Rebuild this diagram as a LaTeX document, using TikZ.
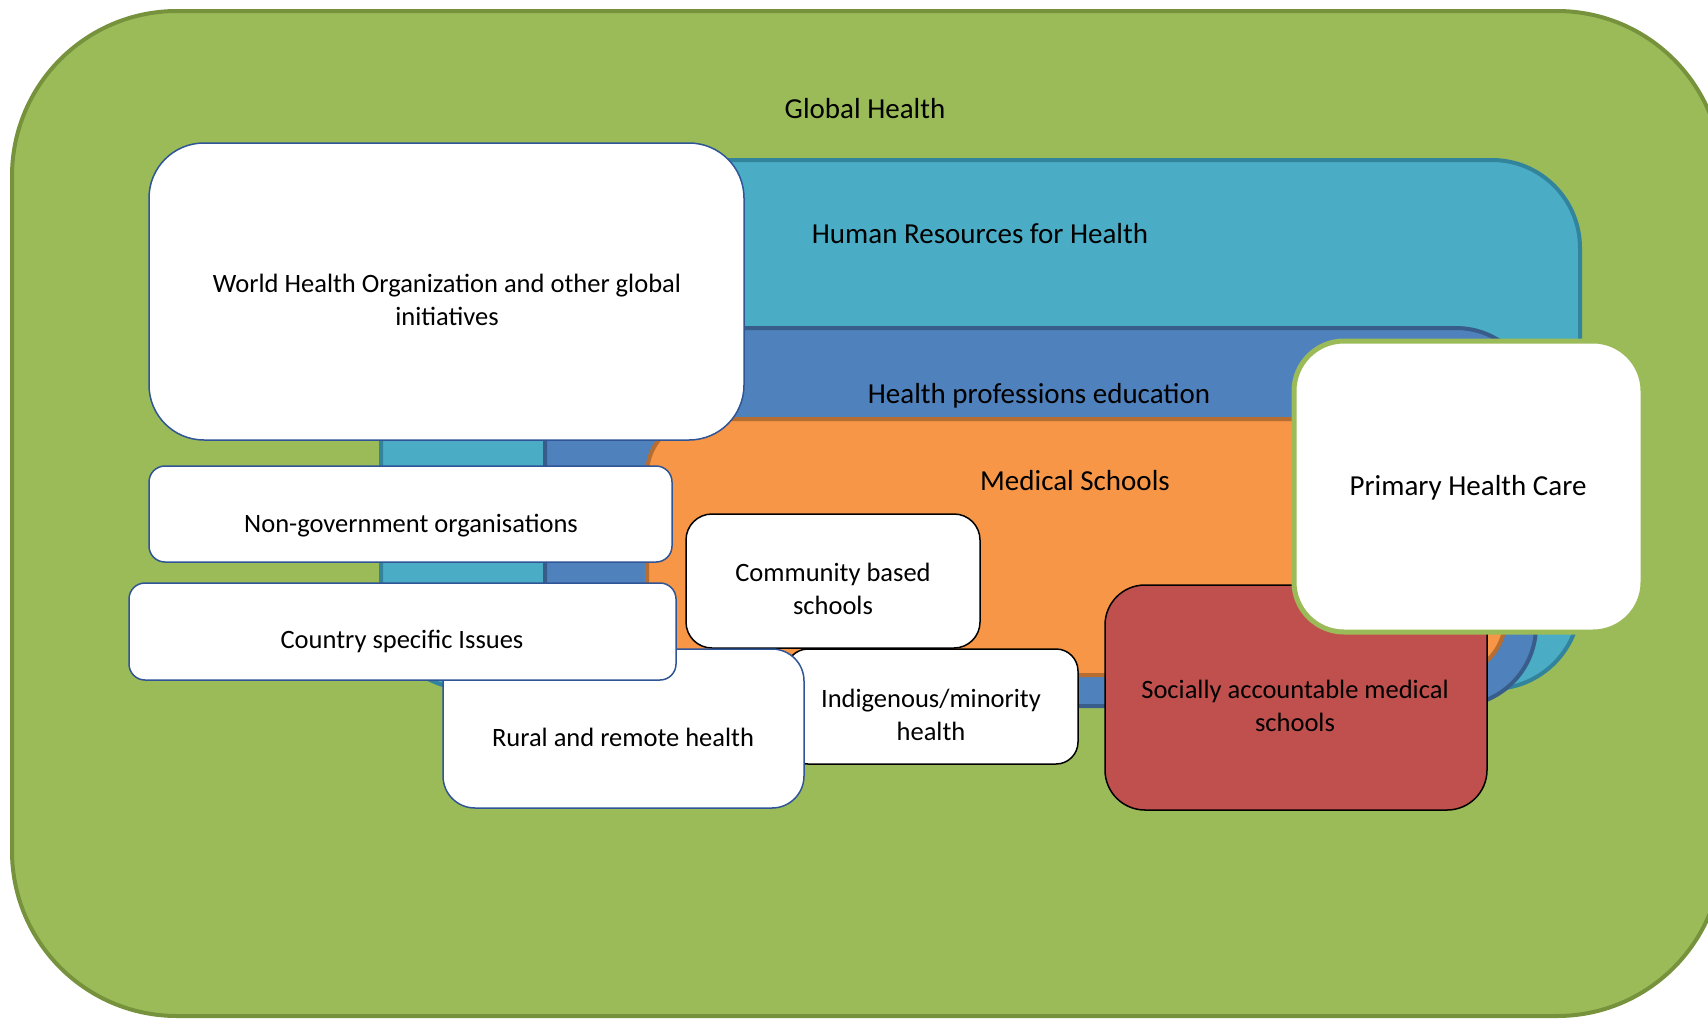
\documentclass[tikz,border=0pt]{standalone}
\usepackage{fontspec}
\setmainfont{Carlito}
\definecolor{gfill}{HTML}{9BBB59}
\definecolor{gline}{HTML}{76923C}
\definecolor{tfill}{HTML}{4BACC6}
\definecolor{tline}{HTML}{31849B}
\definecolor{bfill}{HTML}{4F81BD}
\definecolor{bline}{HTML}{385D8A}
\definecolor{ofill}{HTML}{F79646}
\definecolor{oline}{HTML}{B66D31}
\definecolor{rfill}{HTML}{C0504D}
\definecolor{wline}{HTML}{2F5597}
\begin{document}
\begin{tikzpicture}[x=1pt,y=-1pt,
  layer/.style={line width=4pt},
  wbox/.style={fill=white, draw=wline, line width=1.5pt},
  kbox/.style={fill=white, draw=black, line width=1.5pt},
  head/.style={font=\fontsize{29}{33}\selectfont, inner sep=0pt},
  body/.style={font=\fontsize{26.5}{33}\selectfont, align=center, inner sep=0pt}]
\clip (0,0) rectangle (1708,1018);
% layers
\draw[layer, fill=gfill, draw=gline, rounded corners=165pt] (12,11) rectangle (1722,1016);
\draw[layer, fill=tfill, draw=tline, rounded corners=88pt] (381,160) rectangle (1580,689);
\draw[layer, fill=bfill, draw=bline, rounded corners=80pt] (545,328) rectangle (1536,706);
\draw[layer, fill=ofill, draw=oline, rounded corners=55pt] (647,419) rectangle (1505,675);
\node[head] (gh) at (865,109) {Global Health};
\node[head] (hrh) at (980,234) {Human Resources for Health};
\node[head] (hpe) at (1039,396) {Health professions education};
\node[head] (ms) at (1075,481) {Medical Schools};
% boxes
\draw[wbox, rounded corners=55pt] (149,143) rectangle (744,440);
\node[body] (who) at (447,300) {World Health Organization and other global\\initiatives};
\draw[wbox, rounded corners=16pt] (149,466) rectangle (672,562);
\node[body] (ngo) at (411,526) {Non-government organisations};
\draw[kbox, rounded corners=26pt] (686,514) rectangle (980,648);
\node[body] (cbs) at (833,589) {Community based\\schools};
\draw[kbox, rounded corners=22pt] (786,649) rectangle (1078,764);
\node[body] (ind) at (931,715) {Indigenous/minority\\health};
\draw[wbox, rounded corners=32pt] (443,649) rectangle (804,808);
\node[body] (rur) at (623,737) {Rural and remote health};
\draw[wbox, rounded corners=16pt] (129,583) rectangle (676,680);
\node[body] (csi) at (402,641) {Country specific Issues};
\draw[fill=rfill, draw=black, line width=1.5pt, rounded corners=40pt] (1105,585) rectangle (1487,810);
\node[body] (sam) at (1295,706) {Socially accountable medical\\schools};
\draw[fill=white, draw=gfill, line width=5pt, rounded corners=50pt] (1294,341) rectangle (1643,632);
\node[head] (phc) at (1468,488) {Primary Health Care};
\end{tikzpicture}
\end{document}
